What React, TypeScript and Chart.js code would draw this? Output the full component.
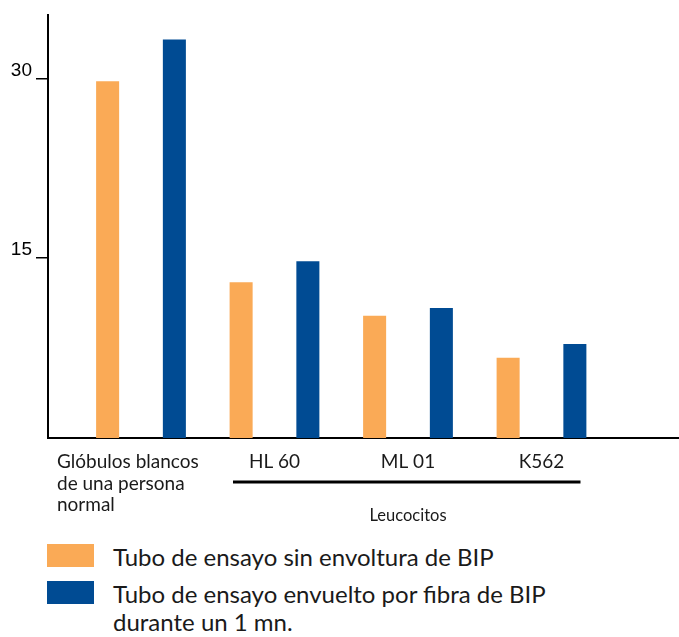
import React, { useEffect, useRef } from "react";
import { Chart, registerables } from "chart.js";

Chart.register(...registerables);

// ---- data ----
const groupLabels: string[][] = [
  ["Glóbulos blancos", "de una persona", "normal"],
  ["HL 60"],
  ["ML 01"],
  ["K562"],
];
const bracketLabel = "Leucocitos";
const seriesNames: string[][] = [
  ["Tubo de ensayo sin envoltura de BIP"],
  ["Tubo de ensayo envuelto por fibra de BIP", "durante un 1 mn."],
];
const sinBIP = [29.75, 13.0, 10.2, 6.7];
const conBIP = [33.25, 14.75, 10.85, 7.85];
const yTicks = [15, 30];
const seriesColors = ["#FAAA56", "#004B93"];

const labelFont = "Lato, 'Open Sans', sans-serif";

const xLabelPlugin = {
  id: "xLabelPlugin",
  afterDraw(chart: any) {
    const ctx = chart.ctx;
    const xs = chart.scales.x;
    ctx.save();
    ctx.fillStyle = "#1a1a1a";
    ctx.textBaseline = "alphabetic";
    ctx.font = `19px ${labelFont}`;
    const base = 468;
    groupLabels.forEach((lines, i) => {
      const cx = xs.getPixelForValue(i + 1);
      if (i === 0) {
        ctx.textAlign = "left";
        lines.forEach((ln, j) => ctx.fillText(ln, cx - 84, base + j * 21.5));
      } else {
        ctx.textAlign = "center";
        lines.forEach((ln, j) => ctx.fillText(ln, cx, base + j * 21.5));
      }
    });
    // bracket line under Leucocitos groups
    const x1 = xs.getPixelForValue(2) - 41.5;
    const x2 = xs.getPixelForValue(groupLabels.length) + 39;
    ctx.strokeStyle = "#000";
    ctx.lineWidth = 3;
    ctx.beginPath();
    ctx.moveTo(x1, 482);
    ctx.lineTo(x2, 482);
    ctx.stroke();
    ctx.font = `16.5px ${labelFont}`;
    ctx.textAlign = "center";
    ctx.fillText(bracketLabel, xs.getPixelForValue(3), 521);
    ctx.restore();
  },
};

export default function App() {
  const ref = useRef<HTMLCanvasElement>(null);
  useEffect(() => {
    if (!ref.current) return;
    const chart = new Chart(ref.current, {
      type: "bar",
      data: {
        datasets: [
          {
            label: seriesNames[0].join(" "),
            data: sinBIP.map((v, i) => ({ x: i + 1, y: v })),
            backgroundColor: seriesColors[0],
            categoryPercentage: 1,
            barPercentage: 0.345,
          },
          {
            label: seriesNames[1].join(" "),
            data: conBIP.map((v, i) => ({ x: i + 1, y: v })),
            backgroundColor: seriesColors[1],
            categoryPercentage: 1,
            barPercentage: 0.345,
          },
        ] as any,
      },
      options: {
        animation: false,
        responsive: false,
        maintainAspectRatio: false,
        layout: { padding: { top: 15, left: 0, right: 0, bottom: 92 } },
        plugins: { legend: { display: false }, tooltip: { enabled: false } },
        scales: {
          x: {
            type: "linear",
            min: 0.3034,
            max: 5.03,
            offset: false,
            grid: { display: false, offset: false },
            ticks: { display: false },
            border: { display: true, color: "#000", width: 2 },
            afterBuildTicks: (s: any) => {
              s.ticks = groupLabels.map((_, i) => ({ value: i + 1 }));
            },
            afterFit: (s: any) => {
              s.height = 0;
            },
          },
          y: {
            min: 0,
            max: 35.25,
            afterBuildTicks: (s: any) => {
              s.ticks = yTicks.map((v) => ({ value: v }));
            },
            grid: {
              drawOnChartArea: false,
              drawTicks: true,
              tickLength: 12,
              color: "#000",
              lineWidth: 1.5,
            },
            border: { display: true, color: "#000", width: 2 },
            ticks: {
              font: { family: "'Liberation Sans', Arial, sans-serif", size: 19 },
              color: "#000",
              padding: 4,
              labelOffset: -8,
            },
            afterFit: (s: any) => {
              s.width = 48;
            },
          },
        } as any,
      },
      plugins: [xLabelPlugin],
    });
    return () => chart.destroy();
  }, []);

  const legendTops = [543, 580];
  const squareTops = [544, 581];
  return (
    <div style={{ position: "absolute", left: 0, top: 0, width: 679, height: 637, background: "#fff" }}>
      <canvas ref={ref} width={679} height={530} style={{ display: "block" }} />
      {seriesNames.map((lines, i) => (
        <React.Fragment key={i}>
          <div
            style={{
              position: "absolute",
              left: 47,
              top: squareTops[i],
              width: 47,
              height: 23,
              background: seriesColors[i],
            }}
          />
          <div
            style={{
              position: "absolute",
              left: 113,
              top: legendTops[i],
              font: `24px ${labelFont}`,
              lineHeight: "28px",
              color: "#1a1a1a",
              whiteSpace: "nowrap",
            }}
          >
            {lines.map((ln, j) => (
              <div key={j}>{ln}</div>
            ))}
          </div>
        </React.Fragment>
      ))}
    </div>
  );
}
